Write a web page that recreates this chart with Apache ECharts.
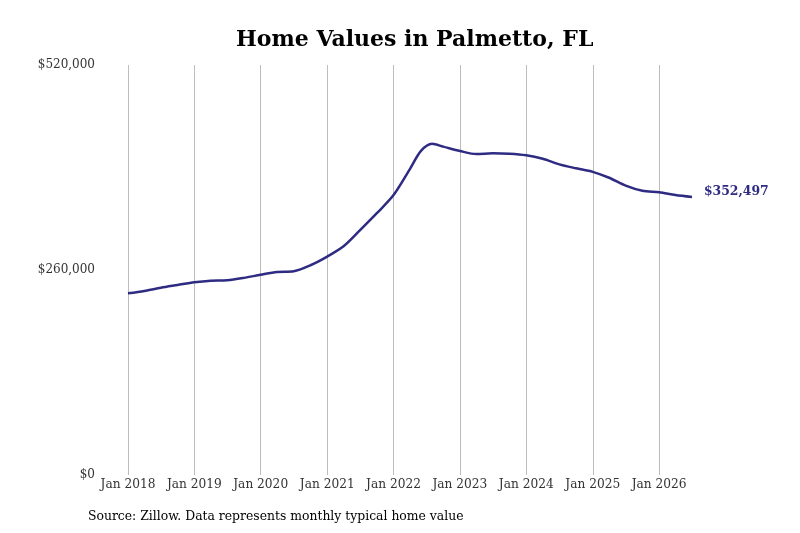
<!DOCTYPE html>
<html>
<head>
<meta charset="utf-8">
<script src="https://cdn.jsdelivr.net/npm/echarts@6/dist/echarts.min.js"></script>
<style>
  html, body { margin: 0; padding: 0; background: #fff; }
  #chart { width: 800px; height: 533px; }
</style>
</head>
<body>
<div id="chart"></div>
<script>
// points
var dates = [
    '2018-01-01', '2018-04-01', '2018-07-01', '2018-10-01',
    '2019-01-01', '2019-04-01', '2019-07-01', '2019-10-01',
    '2020-01-01', '2020-04-01', '2020-07-01', '2020-10-01',
    '2021-01-01', '2021-04-01', '2021-07-01', '2021-10-01',
    '2022-01-01', '2022-04-01', '2022-06-01', '2022-08-01', '2022-10-01',
    '2023-01-01', '2023-04-01', '2023-07-01', '2023-10-01',
    '2024-01-01', '2024-04-01', '2024-07-01', '2024-10-01',
    '2025-01-01', '2025-04-01', '2025-07-01', '2025-10-01',
    '2026-01-01', '2026-04-01', '2026-07-01'
];
var values = [
    230500, 233500, 237500, 241000,
    244500, 246500, 247000, 250000,
    254000, 257500, 258500, 266000,
    277000, 290000, 310500, 332000,
    355000, 388000, 411000, 420000, 416500,
    411000, 407000, 408000, 407500,
    405500, 401000, 394000, 389000,
    384500, 377000, 367000, 360500,
    358500, 355000, 352497
];
var yTicks = [0, 260000, 520000];
var lastLabel = '$352,497';

var lineData = [];
for (var i = 0; i < dates.length; i++) {
    lineData.push([dates[i], values[i]]);
}

var myChart = echarts.init(document.getElementById('chart'));
var option = {
    animation: false,
    title: {
        text: 'Home Values in Palmetto, FL',
        left: 231,
        top: 24,
        textStyle: {
            fontFamily: 'DejaVu Serif',
            fontWeight: 'bold',
            fontSize: 22,
            color: '#000'
        }
    },
    graphic: [{
        type: 'text',
        left: 88,
        top: 511,
        style: {
            text: 'Source: Zillow. Data represents monthly typical home value',
            font: '12.4px "DejaVu Serif"',
            fill: '#000'
        }
    }],
    grid: {
        left: 128,
        right: 108,
        top: 65,
        bottom: 58
    },
    xAxis: {
        type: 'time',
        min: '2018-01-01',
        max: '2026-07-01',
        minInterval: 365 * 24 * 3600 * 1000,
        maxInterval: 366 * 24 * 3600 * 1000,
        axisLine: { show: false },
        axisTick: { show: false },
        axisLabel: {
            color: '#333',
            fontFamily: 'DejaVu Serif',
            fontSize: 12.2,
            margin: 4,
            hideOverlap: false,
            formatter: function (val) {
                var d = new Date(val);
                if (d.getMonth() !== 0) return '';
                return 'Jan ' + d.getFullYear();
            }
        },
        splitLine: {
            show: true,
            showMaxLine: false,
            lineStyle: { color: '#bdbdbd', width: 1 }
        }
    },
    yAxis: {
        type: 'value',
        min: yTicks[0],
        max: yTicks[yTicks.length - 1],
        interval: 260000,
        axisLine: { show: false },
        axisTick: { show: false },
        splitLine: { show: false },
        axisLabel: {
            color: '#333',
            fontFamily: 'DejaVu Serif',
            fontSize: 12,
            margin: 33,
            padding: [4, 0, 0, 0],
            formatter: function (v) {
                return '$' + v.toLocaleString('en-US');
            }
        }
    },
    series: [{
        type: 'line',
        data: lineData,
        smooth: 0.3,
        showSymbol: false,
        lineStyle: { color: '#2e2b82', width: 2.5 },
        endLabel: {
            show: true,
            distance: 12,
            offset: [0, -5],
            formatter: lastLabel,
            color: '#2e2b82',
            fontFamily: 'DejaVu Serif',
            fontWeight: 'bold',
            fontSize: 12.4
        }
    }]
};
myChart.setOption(option);
</script>
</body>
</html>
